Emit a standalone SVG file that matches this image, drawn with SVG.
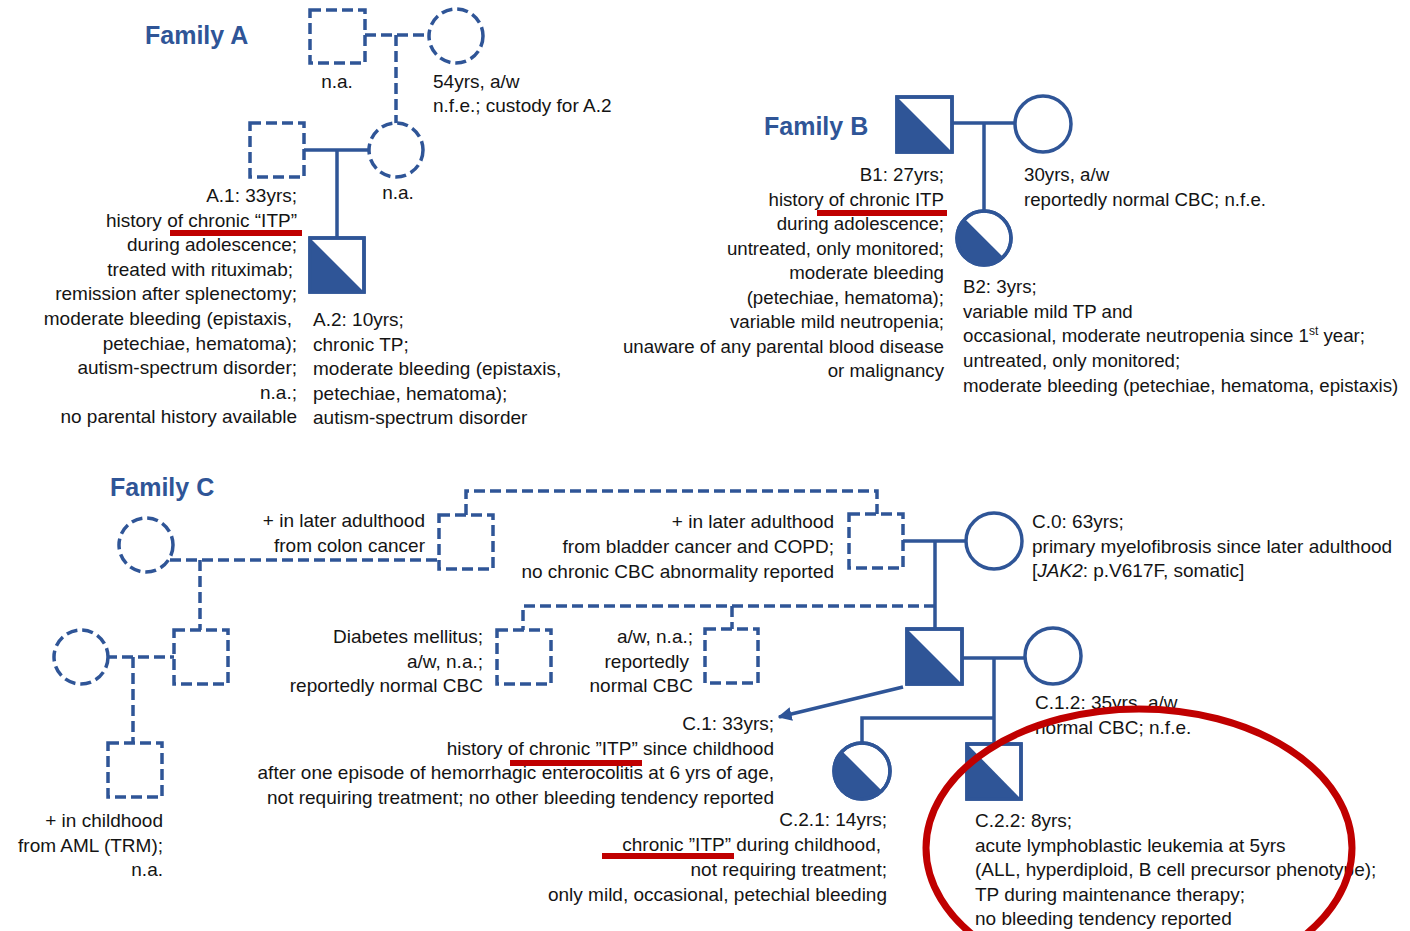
<svg xmlns="http://www.w3.org/2000/svg" width="1410" height="931" viewBox="0 0 1410 931">
<defs>
<style>
.t{font-family:"Liberation Sans",Arial,sans-serif;font-size:19px;fill:#141414}
.tb{font-size:18.7px}
.r{text-anchor:end}
.c{text-anchor:middle}
.title{font-family:"Liberation Sans",Arial,sans-serif;font-weight:bold;font-size:25px;fill:#2F5597}
.sym{fill:#fff;stroke:#2F5597;stroke-width:3.5}
.d{stroke-dasharray:11 5}
.half{fill:#2F5597;stroke:none}
.ln{fill:none;stroke:#2F5597;stroke-width:3.5}
.hl{fill:#C00000}
</style>
<marker id="arr" viewBox="0 0 10 10" refX="9" refY="5" markerWidth="4" markerHeight="4" orient="auto" markerUnits="strokeWidth">
<path d="M0,0 L10,5 L0,10 z" fill="#2F5597"/>
</marker>
</defs>
<rect width="1410" height="931" fill="#fff"/>

<!-- connectors -->
<g id="connectors">
<!-- Family A -->
<path class="ln d" d="M365,35 H430 M396,35 V124"/>
<path class="ln" d="M304,150 H370 M337,150 V238"/>
<!-- Family B -->
<path class="ln" d="M952,123 H1016 M984,123 V211"/>
<!-- Family C -->
<path class="ln d" d="M170,560 H439 M200,560 V630"/>
<path class="ln d" d="M106,657 H174 M133,657 V743"/>
<path class="ln d" d="M466,515 V491 H877 V514"/>
<path class="ln" d="M903,541 H967 M935,541 V629"/>
<path class="ln d" d="M935,606 H523 V630 M732,606 V629"/>
<path class="ln" d="M962,658 H1026 M994,658 V744 M994,718 H862 V743"/>
<path class="ln" d="M903,687 L779,717" marker-end="url(#arr)"/>
</g>

<!-- Family A -->
<text id="titleA" class="title" x="145" y="44">Family A</text>
<g id="A_gf"><rect class="sym d" x="310" y="10" width="55" height="53"/><text class="t c" x="337" y="88">n.a.</text></g>
<g id="A_gm"><circle class="sym d" cx="456" cy="36" r="27"/><text class="t" x="433" y="88">54yrs, a/w</text><text class="t" x="433" y="112">n.f.e.; custody for A.2</text></g>
<g id="A_1"><rect class="sym d" x="250" y="123" width="54" height="54"/>
<rect class="hl" x="170" y="230" width="132" height="6"/>
<text class="t r" x="297" y="202"><tspan x="297">A.1: 33yrs;</tspan><tspan x="297" dy="24.6">history of chronic “ITP”</tspan><tspan x="297" dy="24.6">during adolescence;</tspan><tspan x="293" dy="24.6">treated with rituximab;</tspan><tspan x="297" dy="24.6">remission after splenectomy;</tspan><tspan x="292" dy="24.6">moderate bleeding (epistaxis,</tspan><tspan x="297" dy="24.6">petechiae, hematoma);</tspan><tspan x="297" dy="24.6">autism-spectrum disorder;</tspan><tspan x="297" dy="24.6">n.a.;</tspan><tspan x="297" dy="24.6">no parental history available</tspan></text>
</g>
<g id="A_m"><circle class="sym d" cx="396" cy="150" r="27"/><text class="t c" x="398" y="199">n.a.</text></g>
<g id="A_2"><rect class="sym" x="310" y="238" width="54" height="54"/><path class="half" d="M310,238 L310,292 L364,292 Z"/><rect class="sym" x="310" y="238" width="54" height="54" style="fill:none"/>
<text class="t" x="313" y="326"><tspan x="313">A.2: 10yrs;</tspan><tspan x="313" dy="24.6">chronic TP;</tspan><tspan x="313" dy="24.6">moderate bleeding (epistaxis,</tspan><tspan x="313" dy="24.6">petechiae, hematoma);</tspan><tspan x="313" dy="24.6">autism-spectrum disorder</tspan></text>
</g>

<!-- Family B -->
<text id="titleB" class="title" x="764" y="135">Family B</text>
<g id="B_1"><rect class="sym" x="897" y="97" width="55" height="55"/><path class="half" d="M897,97 L897,152 L952,152 Z"/><rect class="sym" x="897" y="97" width="55" height="55" style="fill:none"/>
<rect class="hl" x="817" y="210" width="130" height="6"/>
<text class="t tb r" x="944" y="181"><tspan x="944">B1: 27yrs;</tspan><tspan x="944" dy="24.5">history of chronic ITP</tspan><tspan x="944" dy="24.5">during adolescence;</tspan><tspan x="944" dy="24.5">untreated, only monitored;</tspan><tspan x="944" dy="24.5">moderate bleeding</tspan><tspan x="944" dy="24.5">(petechiae, hematoma);</tspan><tspan x="944" dy="24.5">variable mild neutropenia;</tspan><tspan x="944" dy="24.5">unaware of any parental blood disease</tspan><tspan x="944" dy="24.5">or malignancy</tspan></text>
</g>
<g id="B_sp"><circle class="sym" cx="1043" cy="124" r="28"/><text class="t tb" x="1024" y="181"><tspan x="1024">30yrs, a/w</tspan><tspan x="1024" dy="24.5">reportedly normal CBC; n.f.e.</tspan></text></g>
<g id="B_2"><circle class="sym" cx="984" cy="238" r="27"/><path class="half" d="M964.9,218.9 A27,27 0 0 0 1003.1,257.1 Z"/><circle class="sym" cx="984" cy="238" r="27" style="fill:none"/>
<text class="t tb" x="963" y="293"><tspan x="963">B2: 3yrs;</tspan><tspan x="963" dy="24.7">variable mild TP and</tspan><tspan x="963" dy="24.7">occasional, moderate neutropenia since 1<tspan font-size="12" dy="-7">st</tspan><tspan dy="7"> year;</tspan></tspan><tspan x="963" dy="24.7">untreated, only monitored;</tspan><tspan x="963" dy="24.7">moderate bleeding (petechiae, hematoma, epistaxis)</tspan></text>
</g>

<!-- Family C -->
<text id="titleC" class="title" x="110" y="496">Family C</text>
<g id="C_ggm"><circle class="sym d" cx="146" cy="545" r="27"/></g>
<g id="C_ggf"><rect class="sym d" x="439" y="515" width="54" height="54"/>
<text class="t r" x="425" y="527"><tspan x="425">+ in later adulthood</tspan><tspan x="425" dy="24.6">from colon cancer</tspan></text></g>
<g id="C_gm"><circle class="sym d" cx="81" cy="657" r="27"/></g>
<g id="C_gf"><rect class="sym d" x="174" y="630" width="54" height="54"/></g>
<g id="C_u"><rect class="sym d" x="108" y="743" width="54" height="54"/>
<text class="t r" x="163" y="827"><tspan x="163">+ in childhood</tspan><tspan x="163" dy="24.6">from AML (TRM);</tspan><tspan x="163" dy="24.6">n.a.</tspan></text></g>
<g id="C_f0"><rect class="sym d" x="849" y="514" width="54" height="54"/>
<text class="t r" x="834" y="528"><tspan x="834">+ in later adulthood</tspan><tspan x="834" dy="24.8">from bladder cancer and COPD;</tspan><tspan x="834" dy="24.8">no chronic CBC abnormality reported</tspan></text></g>
<g id="C_0"><circle class="sym" cx="994" cy="541" r="28"/>
<text class="t" x="1032" y="528"><tspan x="1032">C.0: 63yrs;</tspan><tspan x="1032" dy="24.6">primary myelofibrosis since later adulthood</tspan><tspan x="1032" dy="24.6">[<tspan font-style="italic">JAK2</tspan>: p.V617F, somatic]</tspan></text></g>
<g id="C_dm"><rect class="sym d" x="497" y="630" width="54" height="54"/>
<text class="t r" x="483" y="643"><tspan x="483">Diabetes mellitus;</tspan><tspan x="483" dy="24.6">a/w, n.a.;</tspan><tspan x="483" dy="24.6">reportedly normal CBC</tspan></text></g>
<g id="C_aw"><rect class="sym d" x="705" y="629" width="53" height="54"/>
<text class="t r" x="693" y="643"><tspan x="693">a/w, n.a.;</tspan><tspan x="689" dy="24.6">reportedly</tspan><tspan x="693" dy="24.6">normal CBC</tspan></text></g>
<g id="C_1"><rect class="sym" x="907" y="629" width="55" height="55"/><path class="half" d="M907,629 L907,684 L962,684 Z"/><rect class="sym" x="907" y="629" width="55" height="55" style="fill:none"/>
<rect class="hl" x="510" y="760" width="132" height="6"/>
<text class="t r" x="774" y="730"><tspan x="774">C.1: 33yrs;</tspan><tspan x="774" dy="24.6">history of chronic ”ITP” since childhood</tspan><tspan x="774" dy="24.6">after one episode of hemorrhagic enterocolitis at 6 yrs of age,</tspan><tspan x="774" dy="24.6">not requiring treatment; no other bleeding tendency reported</tspan></text></g>
<g id="C_12"><circle class="sym" cx="1053" cy="656" r="28"/>
<text class="t" x="1035" y="709"><tspan x="1035">C.1.2: 35yrs, a/w</tspan><tspan x="1035" dy="24.6">normal CBC; n.f.e.</tspan></text></g>
<g id="C_21"><circle class="sym" cx="862" cy="771" r="28"/><path class="half" d="M842.2,751.2 A28,28 0 0 0 881.8,790.8 Z"/><circle class="sym" cx="862" cy="771" r="28" style="fill:none"/>
<rect class="hl" x="602" y="853" width="132" height="6"/>
<text class="t r" x="887" y="826"><tspan x="887">C.2.1: 14yrs;</tspan><tspan x="881" dy="25">chronic ”ITP” during childhood,</tspan><tspan x="887" dy="25">not requiring treatment;</tspan><tspan x="887" dy="25">only mild, occasional, petechial bleeding</tspan></text></g>
<g id="C_22"><rect class="sym" x="967" y="744" width="54" height="55"/><path class="half" d="M967,744 L967,799 L1021,799 Z"/><rect class="sym" x="967" y="744" width="54" height="55" style="fill:none"/>
<text class="t" x="975" y="827"><tspan x="975">C.2.2: 8yrs;</tspan><tspan x="975" dy="24.6">acute lymphoblastic leukemia at 5yrs</tspan><tspan x="975" dy="24.6">(ALL, hyperdiploid, B cell precursor phenotype);</tspan><tspan x="975" dy="24.6">TP during maintenance therapy;</tspan><tspan x="975" dy="24.6">no bleeding tendency reported</tspan></text></g>
<ellipse id="highlight" cx="1139" cy="848" rx="213" ry="139" fill="none" stroke="#C00000" stroke-width="7"/>
</svg>
